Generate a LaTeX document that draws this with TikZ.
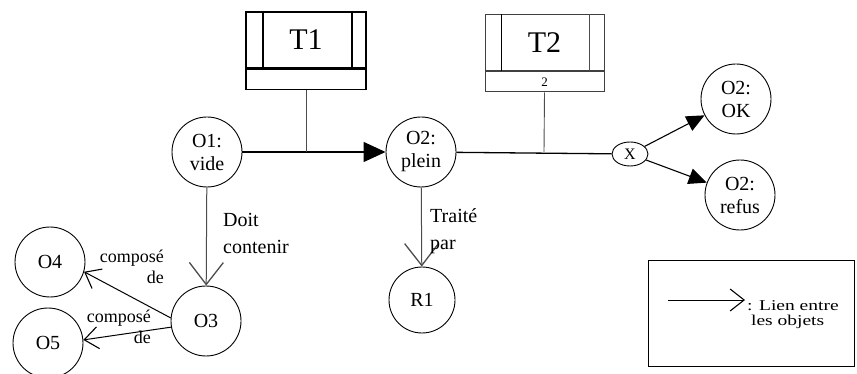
\documentclass[tikz,border=0pt]{standalone}
\usepackage{fontspec}
\setmainfont{Liberation Serif}
\usetikzlibrary{arrows.meta,shapes.geometric}
\begin{document}
\begin{tikzpicture}[x=1pt,y=-1pt,
  every node/.style={font=\rmfamily},
  obj/.style={circle, draw, line width=0.9pt, minimum size=70pt, inner sep=0pt, align=center, font=\rmfamily\fontsize{20}{23}\selectfont},
  lbl/.style={align=left, font=\rmfamily\fontsize{20}{27}\selectfont, inner sep=0pt},
  smalllbl/.style={align=right, font=\rmfamily\fontsize{18}{21}\selectfont, inner sep=0pt},
  fillarrow/.style={-{Triangle[length=22pt,width=20pt]}},
  fillarrowsm/.style={-{Triangle[length=18pt,width=16pt]}},
  bigopen/.style={-{Straight Barb[length=22pt,width=34pt,line width=1.3pt]}},
  smallopen/.style={-{Straight Barb[length=14pt,width=22pt,line width=1.1pt]}},
  tbox/.style={draw, minimum width=120pt, minimum height=56pt, inner sep=0pt, font=\rmfamily\fontsize{30}{30}\selectfont},
  tsub/.style={draw, minimum width=120pt, minimum height=20pt, inner sep=0pt, anchor=north, font=\rmfamily\fontsize{13}{13}\selectfont}
]
\useasboundingbox (0,0) rectangle (857,374);

% T1
\node[tbox, line width=2pt] (t1) at (306,40) {T1};
\draw[line width=1.2pt] ([xshift=18pt]t1.north west) -- ([xshift=18pt]t1.south west);
\draw[line width=1.2pt] ([xshift=-15pt]t1.north east) -- ([xshift=-15pt]t1.south east);
\node[tsub, line width=1.2pt] (t1b) at (t1.south) {};

% T2
\node[tbox, line width=1pt, draw=black!75, minimum width=119pt] (t2) at (544.5,43) {T2};
\draw[line width=1.2pt] ([xshift=17pt]t2.north west) -- ([xshift=17pt]t2.south west);
\draw[line width=0.8pt, black!70] ([xshift=-15pt]t2.north east) -- ([xshift=-15pt]t2.south east);
\node[tsub, line width=1pt, draw=black!75, minimum width=119pt] (t2b) at (t2.south) {2};

% objects
\node[obj] (o1) at (207,152) {O1:\\vide};
\node[obj] (o2) at (421,152) {O2:\\plein};
\node[draw, ellipse, line width=0.9pt, minimum width=36pt, minimum height=24pt, inner sep=0pt, font=\rmfamily\fontsize{16}{16}\selectfont] (x) at (630,154) {X};
\node[obj] (ok) at (736,99) {O2:\\OK};
\node[obj] (rf) at (740,195) {O2:\\refus};
\node[obj] (o3) at (206,321) {O3};
\node[obj] (o4) at (50,262) {O4};
\node[obj] (o5) at (48,343) {O5};
\node[obj, minimum size=66pt] (r1) at (422,300) {R1};

% junctions
\coordinate (j1) at (306,152);
\coordinate (j2) at (544,152);

% connectors
\draw[line width=1.3pt, fillarrow] (o1) -- (o2);
\draw[line width=1.3pt] (o2) -- (x);
\draw[line width=0.9pt, black!70] (t1b.south) -- (j1);
\draw[line width=0.9pt, black!70] (t2b.south) -- (j2);
\draw[line width=1.1pt, fillarrowsm] (x) -- (ok);
\draw[line width=1.1pt, fillarrowsm] (x) -- (rf);
\draw[line width=1pt, black!70, bigopen] (o1) -- (o3);
\draw[line width=1pt, black!70, bigopen] (o2) -- (r1);
\draw[line width=1pt, smallopen] (o3.175) -- (o4.-16);
\draw[line width=1pt, smallopen] (o3.190) -- (o5.5);

% labels
\node[lbl, anchor=north west] (l1) at (223,213) {Doit\\contenir};
\node[lbl, anchor=north west] (l2) at (430,208) {Traité\\par};
\node[smalllbl, anchor=north east] (l3) at (164,250) {composé\\de};
\node[smalllbl, anchor=north east] (l4) at (151,310) {composé\\de};

% legend
\node[draw, line width=1.3pt, minimum width=206pt, minimum height=106pt, anchor=north west, inner sep=0pt] (leg) at (648,260) {};
\coordinate (a1) at (668,300);
\coordinate (a2) at (745,300);
\draw[line width=0.9pt, smallopen] (a1) -- (a2);
\node[inner sep=0pt, anchor=north west, font=\rmfamily\fontsize{15}{15}\selectfont] (lt) at (747,300) {\scalebox{1.3}[1]{\begin{tabular}{@{}l@{}}: Lien entre\\\hspace*{3pt}les objets\end{tabular}}};
\end{tikzpicture}
\end{document}
